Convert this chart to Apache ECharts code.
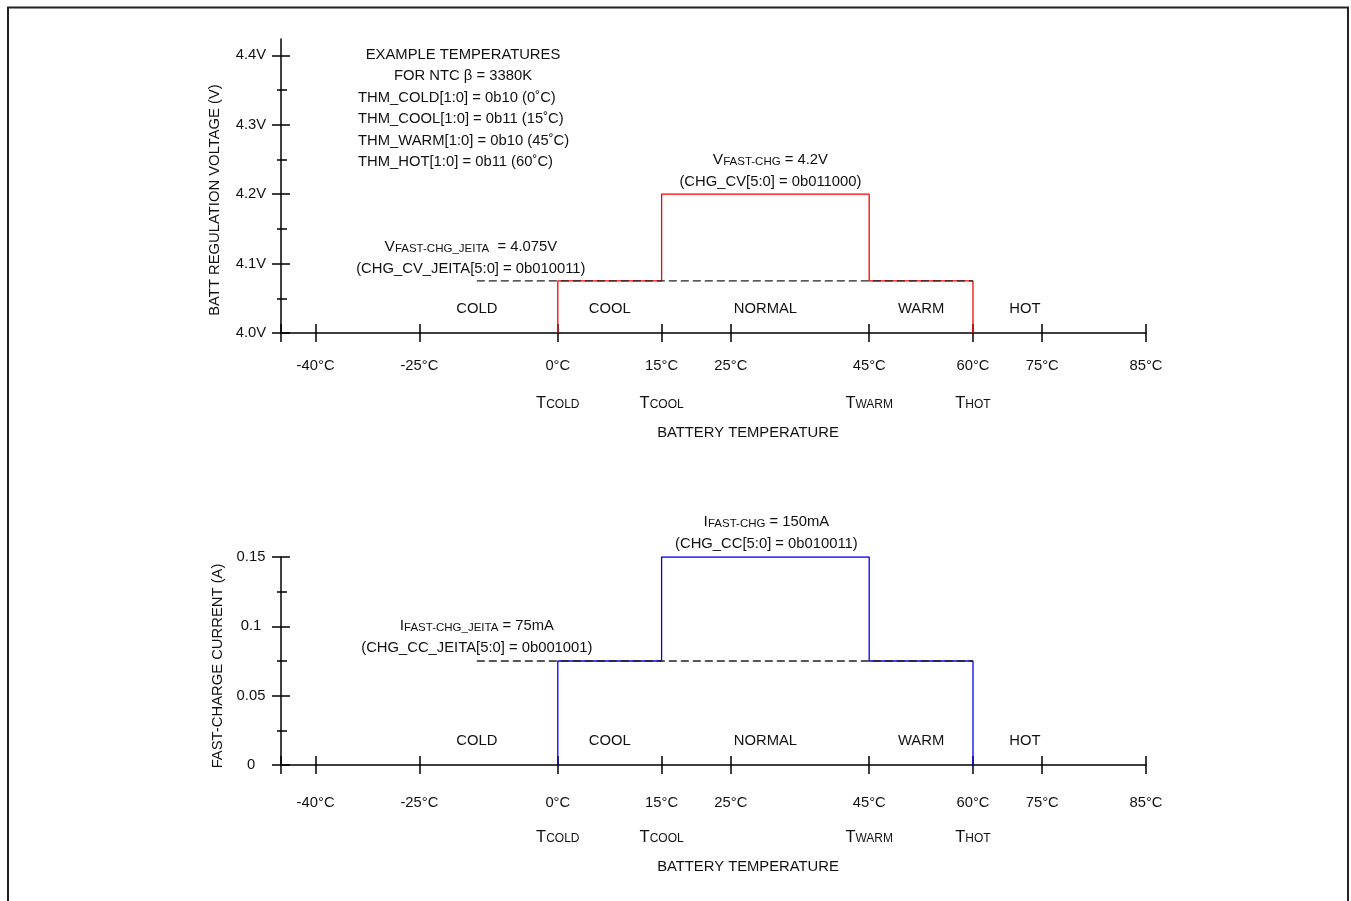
<!DOCTYPE html>
<html>
<head>
<meta charset="utf-8">
<title>JEITA charge profile</title>
<script src="https://cdn.jsdelivr.net/npm/echarts@6/dist/echarts.min.js"></script>
<style>
  html, body { margin: 0; padding: 0; background: #fff; }
  #chart { width: 1351px; height: 901px; }
</style>
</head>
<body>
<div id="chart"></div>
<script>
// temperature ticks and where they sit on the (non-linear) schematic axis
const tempTicks = [-40, -25, 0, 15, 25, 45, 60, 75, 85];
const tickPos = [5, 20, 40, 55, 65, 85, 100, 110, 125];

// JEITA thresholds
const thresholdNames = ['COLD', 'COOL', 'WARM', 'HOT'];
const thresholdTemps = [0, 15, 45, 60];
const thresholdCodes = ['0b10', '0b11', '0b10', '0b11'];
const ntcBeta = 3380;

const zoneNames = ['COLD', 'COOL', 'NORMAL', 'WARM', 'HOT'];

// regulation voltage (V) and fast-charge current (A) per zone
const voltLevels = [4.0, 4.075, 4.2, 4.075, 4.0];
const currentLevels = [0, 0.075, 0.15, 0.075, 0];
const voltRegs = ['CHG_CV_JEITA[5:0] = 0b010011', 'CHG_CV[5:0] = 0b011000'];
const currentRegs = ['CHG_CC_JEITA[5:0] = 0b001001', 'CHG_CC[5:0] = 0b010011'];

// y ticks
const voltTicks = [4.0, 4.1, 4.2, 4.3, 4.4];
const voltMinor = [4.05, 4.15, 4.25, 4.35];
const currentTicks = [0, 0.05, 0.1, 0.15];
const currentMinor = [0.025, 0.075, 0.125];

const FONT = "'Liberation Sans', Arial, sans-serif";
const FS = 14.8;
const SMALL = 11.5;
const INK = '#111';

// layout (schematic axis units): where zone names and the dashed JEITA line start
const zoneLabelAt = [28.3, 47.5, 70, 92.5, 107.5];
const jeitaFrom = 28.3;

const posOf = (t) => tickPos[tempTicks.indexOf(t)];

const stepPoints = (levels) => {
  const xs = thresholdTemps.map(posOf);
  const pts = [[xs[0], levels[0]]];
  for (let i = 1; i <= 3; i++) pts.push([xs[i - 1], levels[i]], [xs[i], levels[i]]);
  pts.push([xs[3], levels[4]]);
  return pts;
};

const panels = [
  {
    top: 39, height: 294, min: 4.0, max: 4.4235,
    ticks: voltTicks, minor: voltMinor, levels: voltLevels, color: '#ff0000',
    yFmt: (v) => v.toFixed(1) + 'V',
    xMargin: 14.5, xLine: 37, noteGap: 1, fastDx: 5, jeitaDx: -6,
    fastNote: `{b|V}{s|FAST-CHG} = ${voltLevels[2]}V\n(${voltRegs[1]})`,
    jeitaNote: `{b|V}{s|FAST-CHG_JEITA}  = ${voltLevels[1]}V\n(${voltRegs[0]})`,
  },
  {
    top: 557, height: 208, min: 0, max: 0.15,
    ticks: currentTicks, minor: currentMinor, levels: currentLevels, color: '#0000ff',
    yFmt: (v) => String(v),
    xMargin: 21, xLine: 34, noteGap: 2.5, fastDx: 1, jeitaDx: 0,
    fastNote: `{b|I}{s|FAST-CHG} = ${Math.round(currentLevels[2] * 1000)}mA\n(${currentRegs[1]})`,
    jeitaNote: `{b|I}{s|FAST-CHG_JEITA} = ${Math.round(currentLevels[1] * 1000)}mA\n(${currentRegs[0]})`,
  },
];

const xLabel = (value) => {
  const t = tempTicks[tickPos.indexOf(value)];
  let s = t + '°C';
  const j = thresholdTemps.indexOf(t);
  if (j >= 0) s += '\n{t|T}{s|' + thresholdNames[j] + '}';
  return s;
};

const grid = [], xAxis = [], yAxis = [], series = [];
const tickLine = { color: '#000', width: 1.5 };
const mainLine = { show: true, onZero: false, lineStyle: tickLine };
const noLine = { show: false, onZero: false };

panels.forEach((p, k) => {
  const g = k * 3;
  for (let i = 0; i < 3; i++) grid.push({ left: 281, width: 865, top: p.top, height: p.height });

  const xBase = { type: 'value', min: 0, max: 125, splitLine: { show: false } };
  const yBase = { type: 'value', min: p.min, max: p.max, splitLine: { show: false } };

  // main axes: lines + labels
  xAxis.push({
    ...xBase, gridIndex: g, axisLine: mainLine, axisTick: { show: false },
    axisLabel: {
      customValues: tickPos, formatter: xLabel, margin: p.xMargin, color: INK,
      fontSize: FS, fontFamily: FONT, lineHeight: p.xLine,
      rich: {
        t: { fontSize: 16.5, fontFamily: FONT, color: INK },
        s: { fontSize: 12, fontFamily: FONT, color: INK, padding: [4, 0, 0, 0] },
      },
    },
  });
  yAxis.push({
    ...yBase, gridIndex: g, axisLine: mainLine, axisTick: { show: false },
    axisLabel: {
      customValues: p.ticks, formatter: p.yFmt, margin: 30, align: 'center',
      color: INK, fontSize: FS, fontFamily: FONT,
    },
  });
  // crossing major ticks
  xAxis.push({
    ...xBase, gridIndex: g + 1, offset: 9, axisLine: noLine, axisLabel: { show: false },
    axisTick: { show: true, inside: true, length: 18, customValues: [0, ...tickPos], lineStyle: tickLine },
  });
  yAxis.push({
    ...yBase, gridIndex: g + 1, offset: 9, axisLine: noLine, axisLabel: { show: false },
    axisTick: { show: true, inside: true, length: 18, customValues: p.ticks, lineStyle: tickLine },
  });
  // minor y ticks
  xAxis.push({ ...xBase, gridIndex: g + 2, show: false, axisLine: noLine });
  yAxis.push({
    ...yBase, gridIndex: g + 2, offset: 4, axisLine: noLine, axisLabel: { show: false },
    axisTick: { show: true, inside: true, length: 10, customValues: p.minor, lineStyle: tickLine },
  });

  const lvl = p.levels;
  series.push({
    type: 'line', xAxisIndex: g, yAxisIndex: g, data: stepPoints(lvl), symbol: 'none', silent: true,
    lineStyle: { color: p.color, width: 1.3 }, z: 2,
  });
  series.push({
    type: 'line', xAxisIndex: g, yAxisIndex: g, symbol: 'none', silent: true,
    data: [[jeitaFrom, lvl[1]], [posOf(thresholdTemps[3]), lvl[1]]],
    lineStyle: { color: '#222', width: 1.3, type: [8, 4] }, z: 3,
  });
  series.push({
    type: 'scatter', xAxisIndex: g, yAxisIndex: g, symbolSize: 0, silent: true,
    itemStyle: { color: INK, opacity: 1 },
    data: zoneNames.map((n, i) => ({ name: n, value: [zoneLabelAt[i], p.min] })),
    label: {
      show: true, formatter: '{b}', position: 'inside', offset: [0, -24],
      color: INK, textBorderWidth: 0, fontSize: FS, fontFamily: FONT,
    },
  });
  const noteLabel = {
    show: true, position: 'top', distance: p.noteGap, color: INK, textBorderWidth: 0,
    fontSize: FS, fontFamily: FONT, lineHeight: 22, align: 'center',
    rich: {
      b: { fontSize: 15.5, fontFamily: FONT, color: INK },
      s: { fontSize: SMALL, fontFamily: FONT, color: INK, padding: [4, 0, 0, 0] },
    },
  };
  const mid = (posOf(thresholdTemps[1]) + posOf(thresholdTemps[2])) / 2;
  series.push({
    type: 'scatter', xAxisIndex: g, yAxisIndex: g, symbolSize: 0, silent: true,
    itemStyle: { color: INK, opacity: 1 },
    data: [
      { value: [mid, lvl[2]], label: { ...noteLabel, formatter: p.fastNote, offset: [p.fastDx, 0] } },
      { value: [jeitaFrom, lvl[1]], label: { ...noteLabel, formatter: p.jeitaNote, offset: [p.jeitaDx, 0] } },
    ],
  });
});

const text = (x, y, t, extra = {}) => ({
  type: 'text', x, y, silent: true, ...extra,
  style: { text: t, fontSize: FS, fontFamily: FONT, fill: INK, align: 'center', verticalAlign: 'middle', ...(extra.style || {}) },
});

const thmLines = thresholdNames.map((n, i) => `THM_${n}[1:0] = ${thresholdCodes[i]} (${thresholdTemps[i]}˚C)`);

const graphic = [
  { type: 'rect', silent: true, shape: { x: 8, y: 7.5, width: 1340, height: 1000 },
    style: { fill: 'none', stroke: '#222', lineWidth: 2 } },
  text(463, 55, 'EXAMPLE TEMPERATURES'),
  text(463, 76, `FOR NTC β = ${ntcBeta}K`),
  ...thmLines.map((l, i) => text(358, 98 + i * 21.4, l, { style: { align: 'left' } })),
  text(215, 200, 'BATT REGULATION VOLTAGE (V)', { rotation: Math.PI / 2 }),
  text(218, 666, 'FAST-CHARGE CURRENT (A)', { rotation: Math.PI / 2 }),
  text(748, 433, 'BATTERY TEMPERATURE'),
  text(748, 867, 'BATTERY TEMPERATURE'),
];

const chart = echarts.init(document.getElementById('chart'));
chart.setOption({
  animation: false,
  backgroundColor: '#fff',
  grid, xAxis, yAxis, series, graphic,
});
window.addEventListener('resize', () => chart.resize());
</script>
</body>
</html>
